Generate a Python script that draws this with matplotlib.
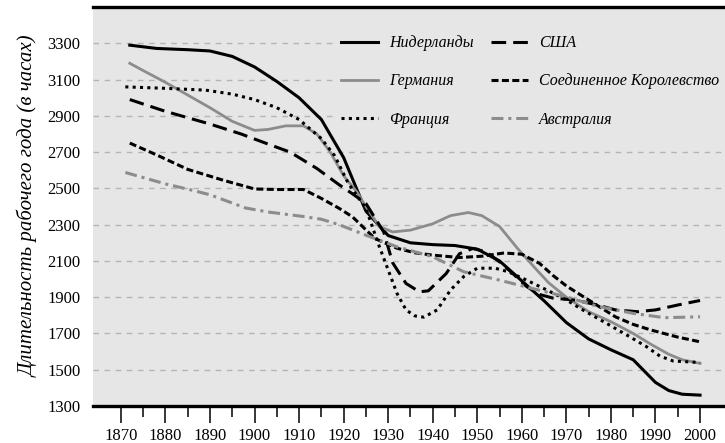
import matplotlib
matplotlib.use("Agg")
import matplotlib.pyplot as plt

plt.rcParams['font.family'] = ['Liberation Serif', 'DejaVu Serif']

# values (annual working hours)
nl_years = [1872, 1878, 1885, 1890, 1895, 1900, 1905, 1910, 1915, 1920, 1925,
            1930, 1935, 1940, 1945, 1950, 1955, 1960, 1965, 1970, 1975, 1980,
            1985, 1988, 1990, 1993, 1996, 2000]
nl_hours = [3290, 3272, 3265, 3258, 3228, 3170, 3090, 3000, 2880, 2670, 2375,
            2240, 2200, 2190, 2185, 2165, 2100, 1990, 1880, 1760, 1670, 1610,
            1555, 1480, 1430, 1385, 1365, 1360]

de_years = [1872, 1875, 1880, 1885, 1890, 1895, 1900, 1903, 1907, 1911, 1914,
            1917, 1920, 1923, 1925, 1928, 1931, 1935, 1940, 1944, 1948, 1951,
            1955, 1959, 1963, 1966, 1970, 1975, 1980, 1985, 1989, 1993, 1996, 2000]
de_hours = [3190, 3150, 3085, 3015, 2945, 2870, 2820, 2825, 2845, 2845, 2800,
            2700, 2570, 2480, 2400, 2290, 2260, 2270, 2305, 2350, 2367, 2350,
            2290, 2170, 2060, 1980, 1900, 1820, 1765, 1700, 1640, 1585, 1555, 1535]

fr_years = [1871, 1880, 1889, 1895, 1900, 1905, 1910, 1915, 1918, 1921, 1925,
            1928, 1930, 1932, 1934, 1936, 1938, 1941, 1944, 1947, 1950, 1954,
            1957, 1961, 1966, 1970, 1974, 1979, 1984, 1988, 1991, 1994, 2000]
fr_hours = [3060, 3052, 3042, 3020, 2990, 2945, 2880, 2775, 2680, 2530, 2390,
            2180, 2050, 1920, 1830, 1797, 1790, 1830, 1940, 2015, 2060, 2060,
            2040, 1995, 1935, 1885, 1825, 1756, 1685, 1627, 1575, 1548, 1540]

us_years = [1872, 1880, 1890, 1897, 1903, 1908, 1914, 1919, 1922, 1925, 1929,
            1931, 1934, 1937, 1939, 1943, 1946, 1949, 1952, 1955, 1958, 1961,
            1964, 1967, 1972, 1977, 1981, 1986, 1990, 1995, 2000]
us_hours = [2990, 2925, 2855, 2800, 2745, 2700, 2610, 2520, 2470, 2417, 2260,
            2090, 1976, 1930, 1935, 2030, 2140, 2169, 2150, 2095, 2030, 1960,
            1915, 1895, 1884, 1857, 1830, 1820, 1830, 1857, 1882]

uk_years = [1872, 1878, 1885, 1893, 1900, 1905, 1911, 1915, 1919, 1922, 1927,
            1932, 1936, 1940, 1946, 1951, 1956, 1960, 1964, 1967, 1970, 1974,
            1981, 1985, 1989, 1995, 2000]
uk_hours = [2750, 2685, 2605, 2545, 2497, 2494, 2494, 2445, 2390, 2343, 2224,
            2170, 2145, 2132, 2119, 2126, 2144, 2137, 2086, 2020, 1962, 1900,
            1792, 1750, 1719, 1680, 1654]

au_years = [1871, 1880, 1886, 1890, 1898, 1903, 1911, 1915, 1919, 1925, 1932,
            1940, 1947, 1955, 1962, 1970, 1977, 1985, 1992, 2000]
au_hours = [2588, 2525, 2490, 2465, 2392, 2370, 2345, 2330, 2300, 2242, 2178,
            2123, 2040, 1994, 1950, 1902, 1850, 1811, 1787, 1792]

grey = '#8c8c8c'
bg = '#e6e6e6'

fig = plt.figure(figsize=(7.25, 4.43), dpi=100)
ax = fig.add_axes([0.128, 0.0835, 0.872, 0.9005])
ax.set_facecolor(bg)

lw = 2.2
ax.plot(nl_years, nl_hours, color='black', lw=lw, label='Нидерланды')
ax.plot(de_years, de_hours, color=grey, lw=2.0, label='Германия')
ax.plot(fr_years, fr_hours, color='black', lw=lw, linestyle=(0, (1, 1.4)),
        label='Франция')
ax.plot(us_years, us_hours, color='black', lw=lw, linestyle=(0, (4.8, 2.3)),
        label='США')
ax.plot(uk_years, uk_hours, color='black', lw=lw, linestyle=(0, (2.3, 1.1)),
        label='Соединенное Королевство')
ax.plot(au_years, au_hours, color=grey, lw=lw, linestyle=(0, (3.9, 1.6, 1, 1.6)),
        label='Австралия')

ax.set_xlim(1863.7, 2005.6)
ax.set_ylim(1300, 3500)
ax.set_yticks(range(1300, 3301, 200))
ax.set_xticks(range(1870, 2001, 10))
ax.set_xticks(range(1875, 2000, 10), minor=True)

ax.grid(axis='y', color='#b4b4b4', lw=1.0, linestyle=(0, (4, 4)))
ax.set_axisbelow(True)

for s in ['left', 'right']:
    ax.spines[s].set_visible(False)
for s in ['top', 'bottom']:
    ax.spines[s].set_linewidth(2.4)

ax.tick_params(axis='y', length=0, pad=9, labelsize=12)
ax.tick_params(axis='x', which='major', length=12, width=1.1, pad=4, labelsize=12)
ax.tick_params(axis='x', which='minor', length=8, width=1.1)

ax.set_ylabel('Длительность рабочего года (в часах)', fontsize=15,
              style='italic', labelpad=6)

leg = ax.legend(loc='upper left', bbox_to_anchor=(0.37, 0.965), ncol=2,
                frameon=True, facecolor=bg, edgecolor='none', framealpha=1,
                fancybox=False, handlelength=2.3, handletextpad=0.7,
                columnspacing=1.1, labelspacing=1.38,
                prop={'style': 'italic', 'size': 11.5})

fig.savefig('out.png', dpi=100)
